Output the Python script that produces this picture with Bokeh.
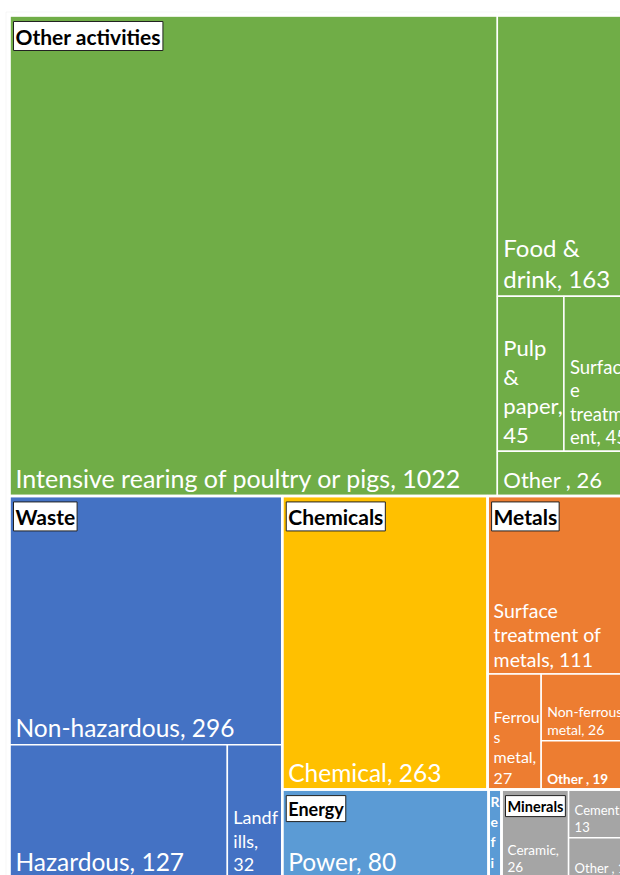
from bokeh.plotting import figure
from bokeh.models import Range1d, ColumnDataSource, BoxAnnotation
from bokeh.embed import file_html
from bokeh.resources import INLINE
from bokeh.core.properties import value

# ---------------- data ----------------
groups = ["Other activities", "Waste", "Chemicals", "Metals", "Energy", "Refining", "Minerals"]

leaf_group = ["Other activities", "Other activities", "Other activities", "Other activities", "Other activities",
              "Waste", "Waste", "Waste",
              "Chemicals",
              "Metals", "Metals", "Metals", "Metals",
              "Energy",
              "Refining",
              "Minerals", "Minerals", "Minerals"]
leaf_name = ["Intensive rearing of poultry or pigs", "Food & drink", "Pulp & paper", "Surface treatment", "Other ",
             "Non-hazardous", "Hazardous", "Landfills",
             "Chemical",
             "Surface treatment of metals", "Ferrous metal", "Non-ferrous metal", "Other ",
             "Power",
             "Refining",
             "Ceramic", "Cement", "Other "]
leaf_value = [1022, 163, 45, 45, 26,
              296, 127, 32,
              263,
              111, 27, 26, 19,
              80,
              5,
              26, 13, 11]

# ---------------- styles / layout ----------------
group_color = {"Other activities": "#70AD47", "Waste": "#4472C4", "Chemicals": "#FFC000",
               "Metals": "#ED7D31", "Energy": "#5B9BD5", "Refining": "#5B9BD5", "Minerals": "#A5A5A5"}
header_size = {"Other activities": "21px", "Waste": "21px", "Chemicals": "21px", "Metals": "21px",
               "Energy": "18px", "Minerals": "14.5px"}

# how each label wraps inside its cell (text layout only; value inserted from data)
wrap = {2: "Pulp\n&\npaper,\n{v}", 3: "Surfac\ne\ntreatm\nent, {v}", 1: "Food &\ndrink, {v}",
        7: "Landf\nills,\n{v}", 9: "Surface\ntreatment of\nmetals, {v}", 10: "Ferrou\ns\nmetal,\n{v}",
        11: "Non-ferrous\nmetal, {v}", 15: "Ceramic,\n{v}", 16: "Cement,\n{v}",
        14: "R\ne\nf\ni\nn\ni\nn\ng\n,\n{v}"}
label_size = {0: 25, 1: 24, 2: 22, 3: 18.5, 4: 22, 5: 24.5, 6: 24.5, 7: 18, 8: 24.5, 9: 19.5,
              10: 16, 11: 14, 12: 13.5, 13: 24.5, 14: 14, 15: 13.5, 16: 13, 17: 13}
bold_labels = {12, 14}
top_aligned = {14}

# treemap arrangement: "h" = side by side, "v" = stacked
tree = ("v", [("h", [0, ("v", [1, ("h", [2, 3]), 4])]),
              ("h", [("v", [5, ("h", [6, 7])]),
                     ("v", [("h", [8, ("v", [9, ("h", [10, ("v", [11, 12])])])]),
                            ("h", [13, 14, ("h", [15, ("v", [16, 17])])])])])])

AREA_X0, AREA_Y0, AREA_W, AREA_H = 9.0, 15.0, 621.0, 863.0
FIG_W, FIG_H = 620, 875


def total(node):
    if isinstance(node, int):
        return leaf_value[node]
    return sum(total(c) for c in node[1])


rects = {}


def place(node, x0, y0, x1, y1):
    if isinstance(node, int):
        rects[node] = (x0, y0, x1, y1)
        return
    d, children = node
    t = total(node)
    pos = x0 if d == "h" else y0
    for c in children:
        frac = total(c) / t
        if d == "h":
            w = (x1 - x0) * frac
            place(c, pos, y0, pos + w, y1)
            pos += w
        else:
            h = (y1 - y0) * frac
            place(c, x0, pos, x1, pos + h)
            pos += h


place(tree, AREA_X0, AREA_Y0, AREA_X0 + AREA_W, AREA_Y0 + AREA_H)

n = len(leaf_value)
leaf_src = ColumnDataSource(dict(
    left=[rects[i][0] for i in range(n)], right=[rects[i][2] for i in range(n)],
    top=[rects[i][1] for i in range(n)], bottom=[rects[i][3] for i in range(n)],
    color=[group_color[g] for g in leaf_group]))

# group bounding boxes
g_rect = {}
for i, g in enumerate(leaf_group):
    x0, y0, x1, y1 = rects[i]
    if g in g_rect:
        a = g_rect[g]
        g_rect[g] = (min(a[0], x0), min(a[1], y0), max(a[2], x1), max(a[3], y1))
    else:
        g_rect[g] = (x0, y0, x1, y1)

p = figure(width=FIG_W, height=FIG_H, output_backend="svg", toolbar_location=None,
           x_range=Range1d(0, FIG_W), y_range=Range1d(FIG_H, 0),
           x_axis_location=None, y_axis_location=None, min_border=0,
           outline_line_color=None, background_fill_color="white", border_fill_color="white")
p.grid.visible = False

# faint chart-area frame
p.add_layout(BoxAnnotation(left=AREA_X0 - 3.5, top=AREA_Y0 - 3.5, right=AREA_X0 + AREA_W + 3.5,
                           bottom=AREA_Y0 + AREA_H + 3.5, fill_alpha=0,
                           line_color="#E3E3E3", line_width=1))

p.quad(left="left", right="right", top="top", bottom="bottom", source=leaf_src,
       fill_color="color", line_color="white", line_width=1.5)

gsrc = ColumnDataSource(dict(left=[g_rect[g][0] for g in groups], right=[g_rect[g][2] for g in groups],
                             top=[g_rect[g][1] for g in groups], bottom=[g_rect[g][3] for g in groups]))
p.quad(left="left", right="right", top="top", bottom="bottom", source=gsrc,
       fill_alpha=0, line_color="white", line_width=2.5)


# leaf labels
def label_text(i):
    tmpl = wrap.get(i, "{n}, {v}")
    return tmpl.format(n=leaf_name[i], v=leaf_value[i])


bot_idx = [i for i in range(n) if i not in top_aligned]
lsrc = ColumnDataSource(dict(
    x=[rects[i][0] + 6 for i in bot_idx], y=[rects[i][3] - 3 for i in bot_idx],
    text=[label_text(i) for i in bot_idx],
    size=["%spx" % label_size[i] for i in bot_idx],
    style=["bold" if i in bold_labels else "normal" for i in bot_idx]))
p.text(x="x", y="y", text="text", source=lsrc, text_font=value("Lato"), text_font_size="size",
       text_font_style="style", text_color="white", text_align="left", text_baseline="bottom",
       text_line_height=1.07)

top_idx = [i for i in range(n) if i in top_aligned]
tsrc = ColumnDataSource(dict(
    x=[rects[i][0] + 2 for i in top_idx], y=[rects[i][1] + 3 for i in top_idx],
    text=[label_text(i) for i in top_idx],
    size=["%spx" % label_size[i] for i in top_idx]))
p.text(x="x", y="y", text="text", source=tsrc, text_font=value("Lato"), text_font_size="size",
       text_font_style="bold", text_color="white", text_align="left", text_baseline="top",
       text_line_height=1.2)

# group headers
hg = [g for g in groups if g in header_size]
hsrc = ColumnDataSource(dict(
    x=[g_rect[g][0] + 4 for g in hg], y=[g_rect[g][1] + 6 for g in hg], text=hg,
    size=[header_size[g] for g in hg]))
p.text(x="x", y="y", text="text", source=hsrc, text_font=value("Lato"), text_font_size="size",
       text_font_style="bold", text_color="black", text_align="left", text_baseline="top",
       background_fill_color="white", border_line_color="#222222", border_line_width=1, padding=2)

open("out.html", "w").write(file_html(p, INLINE))
